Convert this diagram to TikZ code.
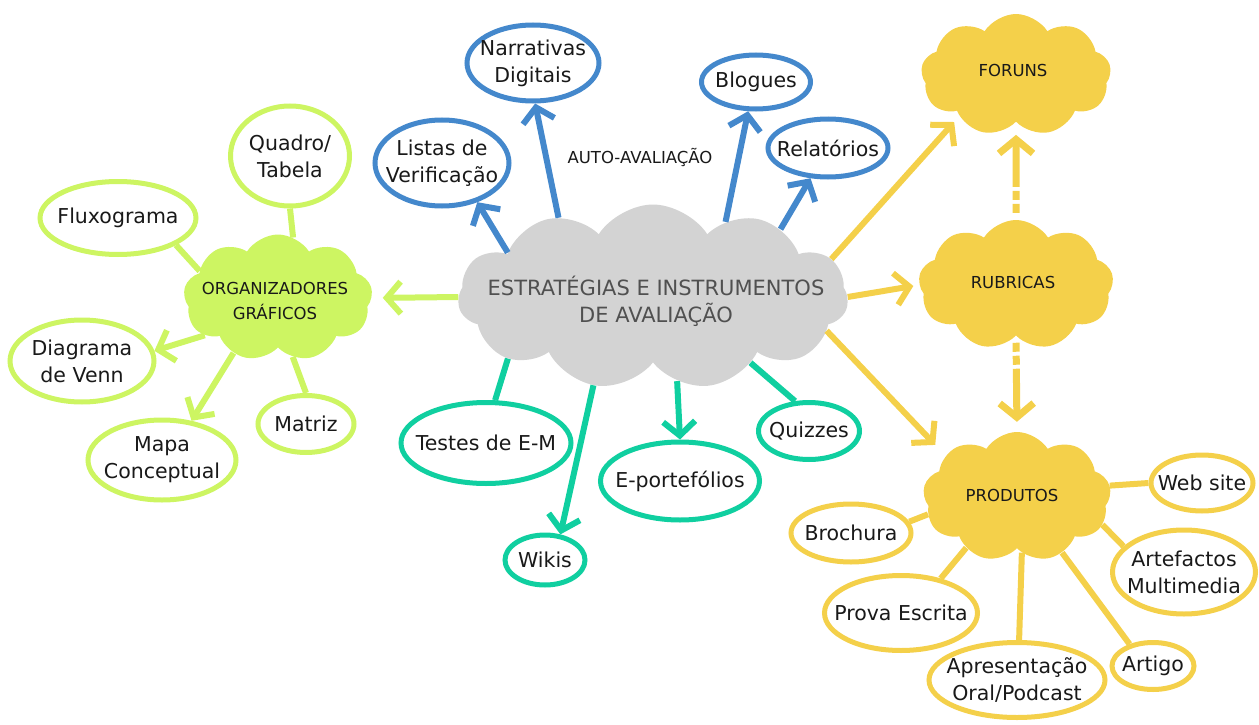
\documentclass[tikz,border=0pt]{standalone}
\usepackage{fontspec}
\setmainfont{DejaVu Sans}
\usetikzlibrary{shapes.geometric, shapes.symbols, arrows.meta}

\definecolor{bluestroke}{RGB}{68,136,204}
\definecolor{limestroke}{RGB}{205,245,98}
\definecolor{tealstroke}{RGB}{16,207,160}
\definecolor{goldfill}{RGB}{244,208,74}
\definecolor{cloudgray}{RGB}{211,211,211}
\definecolor{graytext}{RGB}{80,80,80}

\tikzset{
    bubble/.style={ellipse, draw=#1, line width=5pt, fill=white, inner xsep=-15pt, inner ysep=-3pt,
        align=center, font=\fontsize{20.5}{27}\selectfont, text=black!90},
    puff/.style={cloud, cloud puffs=9, cloud puff arc=115, cloud ignores aspect, fill=#1, inner sep=0pt},
    cloudtext/.style={align=center, font=\fontsize{16.5}{25}\selectfont, text=black!90},
    link/.style={draw=#1, line width=6pt},
    barbend/.style={-{Straight Barb[length=14pt,width=32pt]}},
    dasharrow/.style={draw=goldfill, line width=7pt, dash pattern=on 9pt off 4pt on 9pt off 4pt on 200pt off 1pt,
        -{Straight Barb[length=14pt,width=34pt]}}
}

\begin{document}
\begin{tikzpicture}[x=1pt, y=-1pt]
    \useasboundingbox (0,0) rectangle (1259,725);

    % Central cloud
    \node[puff=cloudgray, cloud puffs=11, minimum width=390pt, minimum height=185pt] (central) at (653,297) {};
    \node[font=\fontsize{21}{27}\selectfont, text=graytext, align=center] (centraltxt) at (656,301)
        {ESTRATÉGIAS E INSTRUMENTOS\\DE AVALIAÇÃO};

    % Auto-avaliacao (blue)
    \node[cloudtext] (autoaval) at (640,157) {AUTO-AVALIAÇÃO};
    \node[bubble=bluestroke, minimum width=132pt, minimum height=76pt] (narr) at (533,63) {Narrativas\\Digitais};
    \node[bubble=bluestroke, minimum width=134pt, minimum height=86pt] (listas) at (442,163) {Listas de\\Verificação};
    \node[bubble=bluestroke, minimum width=109pt, minimum height=54pt] (blogues) at (756,82) {Blogues};
    \node[bubble=bluestroke, minimum width=120pt, minimum height=58pt] (relat) at (828,148) {Relatórios};

    % Organizadores graficos (lime)
    \node[puff=limestroke, minimum width=189pt, minimum height=127pt] (org) at (278,298) {};
    \node[cloudtext] (orgtxt) at (275,301) {ORGANIZADORES\\GRÁFICOS};
    \node[bubble=limestroke, minimum width=119pt, minimum height=100pt] (quadro) at (290,156) {Quadro/\\Tabela};
    \node[bubble=limestroke, minimum width=156pt, minimum height=73pt] (fluxo) at (118,218) {Fluxograma};
    \node[bubble=limestroke, minimum width=144pt, minimum height=82pt] (venn) at (82,361) {Diagrama\\de Venn};
    \node[bubble=limestroke, minimum width=148pt, minimum height=80pt] (mapa) at (162,460) {Mapa\\Conceptual};
    \node[bubble=limestroke, minimum width=96pt, minimum height=57pt] (matriz) at (306,424) {Matriz};

    % Testes e portefolios (teal)
    \node[bubble=tealstroke, minimum width=170pt, minimum height=81pt] (testes) at (486,443) {Testes de E-M};
    \node[bubble=tealstroke, minimum width=80pt, minimum height=50pt] (wikis) at (545,560) {Wikis};
    \node[bubble=tealstroke, minimum width=159pt, minimum height=78pt] (eport) at (680,481) {E-portefólios};
    \node[bubble=tealstroke, minimum width=101pt, minimum height=57pt] (quizzes) at (809,431) {Quizzes};

    % Foruns, rubricas, produtos (gold)
    \node[puff=goldfill, minimum width=190pt, minimum height=122pt] (foruns) at (1016,75) {};
    \node[cloudtext] (forunstxt) at (1013,70) {FORUNS};
    \node[puff=goldfill, minimum width=195pt, minimum height=130pt] (rubricas) at (1016,285) {};
    \node[cloudtext] (rubricastxt) at (1013,282) {RUBRICAS};
    \node[puff=goldfill, minimum width=188pt, minimum height=130pt] (produtos) at (1017,497) {};
    \node[cloudtext] (produtostxt) at (1012,495) {PRODUTOS};
    \node[bubble=goldfill, minimum width=102pt, minimum height=56pt] (websit) at (1202,483) {Web site};
    \node[bubble=goldfill, minimum width=120pt, minimum height=58pt] (broch) at (851,533) {Brochura};
    \node[bubble=goldfill, minimum width=143pt, minimum height=84pt] (artef) at (1184,572) {Artefactos\\Multimedia};
    \node[bubble=goldfill, minimum width=153pt, minimum height=75pt] (prova) at (901,613) {Prova Escrita};
    \node[bubble=goldfill, minimum width=176pt, minimum height=75pt] (apres) at (1017,680) {Apresentação\\Oral/Podcast};
    \node[bubble=goldfill, minimum width=82pt, minimum height=47pt] (artigo) at (1153,666) {Artigo};

    % Connectors from the central cloud
    \draw[link=bluestroke, barbend] (central.163) -- (listas.-48);
    \draw[link=bluestroke, barbend] (central.140) -- (narr.-87);
    \draw[link=bluestroke, barbend] (central.46) -- (blogues.-105);
    \draw[link=bluestroke, barbend] (central.28) -- (relat.-120);
    \draw[link=limestroke, barbend, shorten >=11pt] (central.180) -- (org.0);
    \draw[link=tealstroke] (central.203) -- (testes.78);
    \draw[link=tealstroke, barbend] (central.236) -- (wikis.59);
    \draw[link=tealstroke, barbend] (central.286) -- (eport.north);
    \draw[link=tealstroke] (central.326) -- (quizzes.115);
    \draw[link=goldfill, barbend, shorten >=8pt] (central.12) -- (foruns.216);
    \draw[link=goldfill, barbend, shorten >=6pt] (central.0) -- (rubricas.180);
    \draw[link=goldfill, barbend, shorten >=15pt] (central.349) -- (produtos.150);

    % Organizadores connectors
    \draw[link=limestroke] (org.76) -- (quadro.south);
    \draw[link=limestroke] (org.161) -- (fluxo.-25);
    \draw[link=limestroke, barbend] (org.207) -- (venn.8);
    \draw[link=limestroke, barbend] (org.231) -- (mapa.53);
    \draw[link=limestroke] (org.284) -- (matriz.north);

    % Rubricas links
    \draw[dasharrow, shorten <=7pt, shorten >=13pt] (rubricas.north) -- (foruns.south);
    \draw[dasharrow, shorten <=7pt, shorten >=10pt] (rubricas.south) -- (produtos.north);

    % Produtos connectors
    \draw[link=goldfill] (produtos.7) -- (websit.west);
    \draw[link=goldfill] (produtos.191) -- (broch.11);
    \draw[link=goldfill] (produtos.342) -- (artef.157);
    \draw[link=goldfill] (produtos.225) -- (prova.41);
    \draw[link=goldfill] (produtos.275) -- (apres.87);
    \draw[link=goldfill] (produtos.309) -- (artigo.137);
\end{tikzpicture}
\end{document}
